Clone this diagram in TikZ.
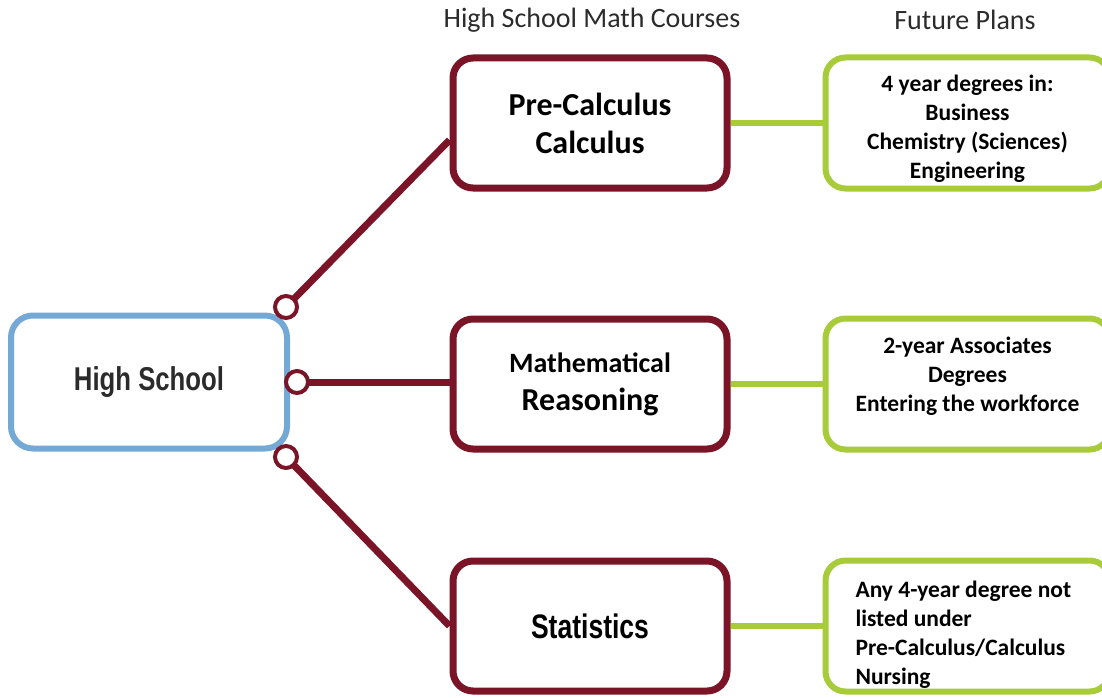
\documentclass[tikz,border=0pt]{standalone}
\usepackage{fontspec}
\setmainfont{Carlito}
\newfontfamily\condfont[FakeStretch=0.78]{Liberation Sans}
\usepackage{xcolor}
\usetikzlibrary{positioning}
\definecolor{wine}{HTML}{7A1426}
\definecolor{skyblue}{HTML}{74A9D5}
\definecolor{lime}{HTML}{A8CB3A}
\definecolor{ink}{HTML}{2B2B2B}

\tikzset{
  startbox/.style={draw=skyblue, line width=6pt, rounded corners=22pt, fill=white,
    minimum width=276pt, minimum height=133pt, text=ink, font=\condfont\bfseries\fontsize{33}{38}\selectfont},
  coursebox/.style={draw=wine, line width=7pt, rounded corners=20pt, fill=white,
    minimum width=274pt, minimum height=130pt, align=center, font=\bfseries\fontsize{32}{38}\selectfont},
  planbox/.style={draw=lime, line width=6pt, rounded corners=20pt, fill=white,
    minimum width=284pt, minimum height=131pt},
  plantext/.style={font=\bfseries\fontsize{23.5}{29}\selectfont},
  knob/.style={circle, draw=wine, line width=4pt, fill=white, minimum size=22pt, inner sep=0pt},
  redlink/.style={draw=wine, line width=7pt},
  greenlink/.style={draw=lime, line width=6pt},
  heading/.style={font=\fontsize{28}{32}\selectfont, text=ink}
}

\begin{document}
\begin{tikzpicture}[x=1pt, y=-1pt]
  \clip (0,0) rectangle (1102,698);
  % headings
  \node[heading] (hcourses) at (592,20) {High School Math Courses};
  \node[heading] (hplans) at (965,20) {Future Plans};
  % boxes
  \node[startbox] (hs) at (149,382) {High School};
  \node[coursebox] (pre) at (590,123) {Pre-Calculus\\Calculus};
  \node[coursebox] (reason) at (590,384) {\fontsize{28}{35}\selectfont Mathematical\\Reasoning};
  \node[coursebox, font=\condfont\bfseries\fontsize{34}{38}\selectfont] (stats) at (590,626) {Statistics};
  \node[planbox, right=92pt of pre] (planA) {};
  \node[planbox, right=92pt of reason] (planB) {};
  \node[planbox, right=92pt of stats] (planC) {};
  \node[plantext, align=center, yshift=-6pt] (textA) at (planA) {4 year degrees in:\\Business\\Chemistry (Sciences)\\Engineering};
  \node[plantext, align=center, yshift=8pt] (textB) at (planB) {2-year Associates\\Degrees\\Entering the workforce};
  \node[plantext, align=flush left, text width=224pt, yshift=-9pt] (textC) at (planC) {Any 4-year degree not\\listed under\\Pre-Calculus/Calculus\\Nursing};
  % links
  \coordinate (k1) at (286,307);
  \coordinate (k2) at (297,382);
  \coordinate (k3) at (286,457);
  \draw[redlink] (k1) -- ([yshift=-17pt]pre.west);
  \draw[redlink] (k2) -- (k2 -| reason.west);
  \draw[redlink] (k3) -- (stats.west);
  \draw[greenlink] (pre.east) -- (planA.west);
  \draw[greenlink] (reason.east) -- (planB.west);
  \draw[greenlink] (stats.east) -- (planC.west);
  \node[knob] (knobA) at (k1) {};
  \node[knob] (knobB) at (k2) {};
  \node[knob] (knobC) at (k3) {};
\end{tikzpicture}
\end{document}
